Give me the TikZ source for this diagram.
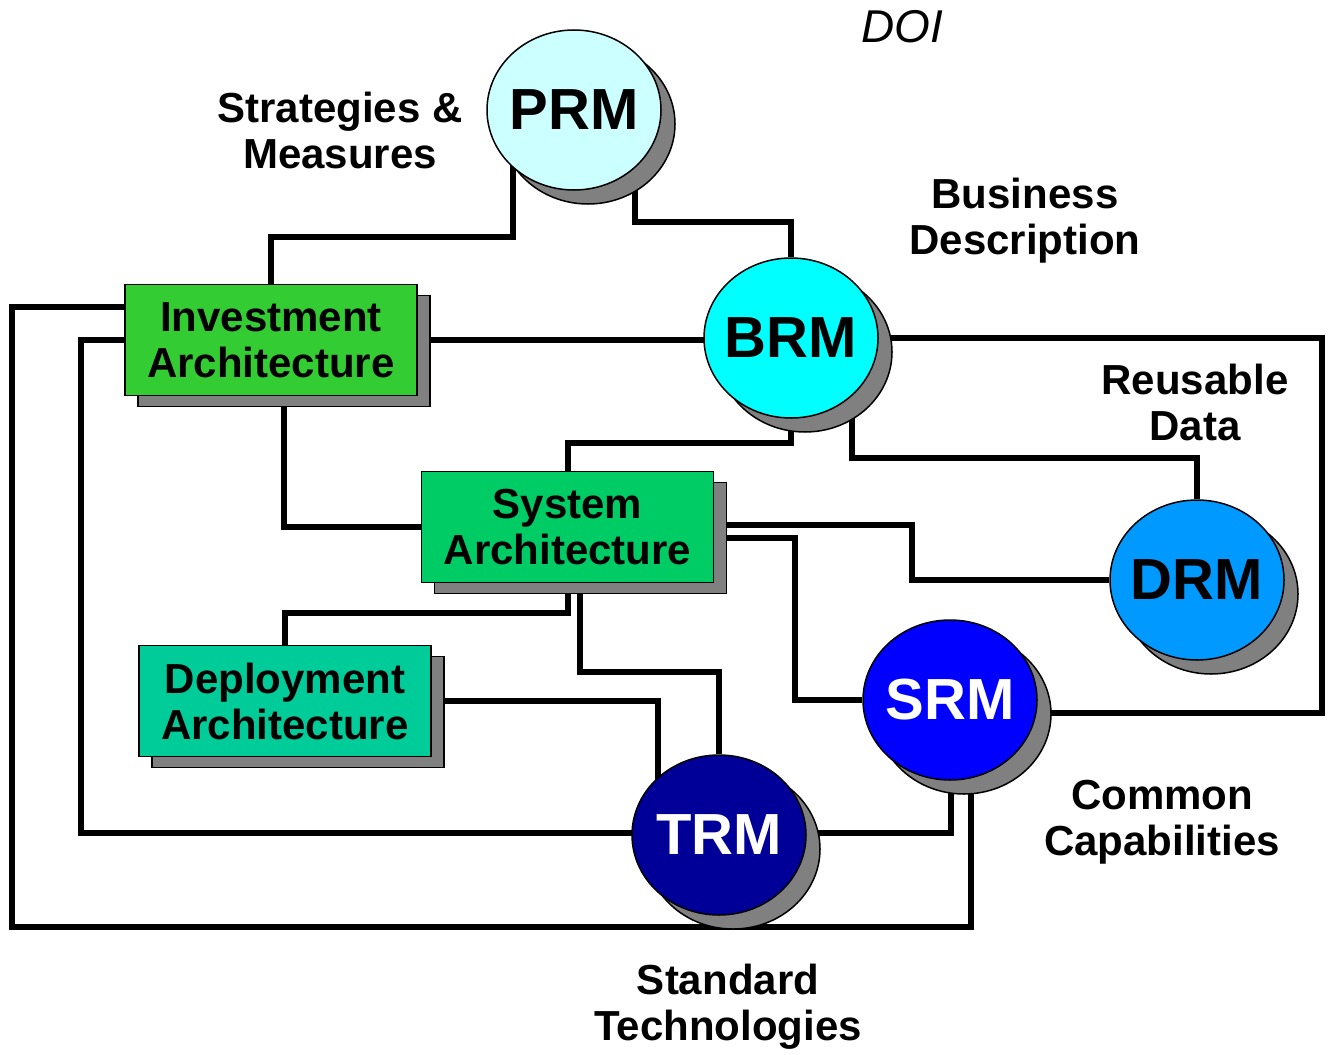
\documentclass[tikz,border=0pt]{standalone}
\usepackage{fontspec}
\setmainfont{Liberation Sans}
\usetikzlibrary{shapes.geometric,shadows,backgrounds,calc}
\definecolor{prmcol}{HTML}{CCFFFF}
\definecolor{brmcol}{HTML}{00FFFF}
\definecolor{drmcol}{HTML}{0099FF}
\definecolor{srmcol}{HTML}{0000FF}
\definecolor{trmcol}{HTML}{000099}
\definecolor{iacol}{HTML}{33CC33}
\definecolor{sacol}{HTML}{00CC66}
\definecolor{dacol}{HTML}{00CC99}
\definecolor{shadowgray}{HTML}{808080}
\begin{document}
\begin{tikzpicture}[x=1pt,y=-1pt,
    model/.style={ellipse, draw, line width=1.5pt, minimum width=174pt, minimum height=160pt, inner sep=-6pt,
        font=\fontsize{58}{60}\selectfont\bfseries,
        copy shadow={shadow xshift=14pt, shadow yshift=-14pt, fill=shadowgray, draw=black, opacity=1}},
    arch/.style={rectangle, draw, line width=1.5pt, minimum width=292pt, minimum height=111pt, inner sep=0pt,
        align=center, font=\fontsize{42}{46}\selectfont\bfseries,
        copy shadow={shadow xshift=13pt, shadow yshift=-11pt, fill=shadowgray, draw=black, opacity=1}},
    lbl/.style={align=center, font=\fontsize{42}{46}\selectfont\bfseries},
    wire/.style={line width=6pt}]
    \useasboundingbox (0,0) rectangle (1329,1054);
    \node[model, fill=prmcol] (prm) at (574,110) {PRM};
    \node[model, fill=brmcol] (brm) at (791,338) {BRM};
    \node[model, fill=drmcol] (drm) at (1197,580) {DRM};
    \node[model, fill=srmcol, text=white] (srm) at (950,700) {SRM};
    \node[model, fill=trmcol, text=white] (trm) at (719,835) {TRM};
    \node[arch, fill=iacol] (ia) at (271,340) {Investment\\Architecture};
    \node[arch, fill=sacol] (sa) at (567.5,527) {System\\Architecture};
    \node[arch, fill=dacol] (da) at (285,701) {Deployment\\Architecture};
    \node[lbl] (strat) at (340,130) {Strategies \&\\Measures};
    \node[lbl] (bus) at (1025,221) {Business\\Description};
    \node[lbl] (reuse) at (1195,402) {Reusable\\Data};
    \node[lbl] (common) at (1162,822) {Common\\Capabilities};
    \node[lbl] (std) at (728,1007) {Standard\\Technologies};
    \node[font=\fontsize{46}{46}\selectfont\itshape] (doi) at (902,27) {DOI};
    \begin{scope}[on background layer]
        \draw[wire] ($(prm)+(-61,0)$) |- ($(ia.north)+(0,-47)$) -- (ia.north);
        \draw[wire] ($(prm)+(61,0)$) |- ($(brm.north)+(0,-35)$) -- (brm.north);
        \draw[wire] (ia) -- (ia -| brm);
        \draw[wire] (brm) |- ($(sa.north)+(0,-28)$) -- (sa.north);
        \draw[wire] ($(brm)+(61,0)$) |- ($(drm.north)+(0,-41)$) -- (drm.north);
        \draw[wire] (brm) -| ($(srm)+(372,13)$) -- ($(srm)+(0,13)$);
        \draw[wire] ($(ia)+(13,0)$) |- (sa);
        \draw[wire] ($(sa)+(0,-2)$) -| ($(drm)+(-285,0)$) -- (drm);
        \draw[wire] ($(sa)+(0,11)$) -| ($(srm)+(-155,0)$) -- (srm);
        \draw[wire] (sa) |- ($(da.north)+(0,-32)$) -- (da.north);
        \draw[wire] ($(sa)+(12,0)$) |- ($(trm.north)+(0,-82)$) -- (trm.north);
        \draw[wire] (da) -| ($(trm)+(-61,0)$);
        \draw[wire] (ia) -| ($(trm)+(-638,-2)$) -- ($(trm)+(0,-2)$);
        \draw[wire] ($(ia)+(0,-33)$) -| ($(srm)+(-938,227)$) -| ($(srm)+(21,0)$);
        \draw[wire] ($(trm)+(0,-2)$) -| ($(srm)+(1,0)$);
    \end{scope}
\end{tikzpicture}
\end{document}
